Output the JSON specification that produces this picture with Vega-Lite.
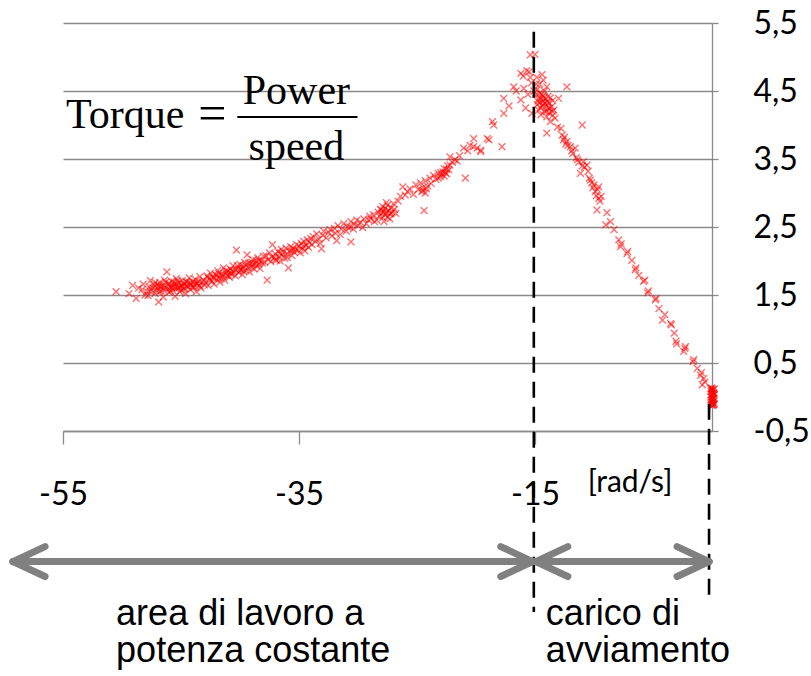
{
  "$schema": "https://vega.github.io/schema/vega-lite/v6.json",
  "autosize": "none",
  "width": 649,
  "height": 408,
  "padding": {"left": 63, "top": 23, "right": 99, "bottom": 245},
  "background": "white",
  "config": {"view": {"stroke": null}},
  "datasets": {
    "pts": [
      {"x":-50.5,"y":1.55},{"x":-49.4,"y":1.52},{"x":-49.1,"y":1.64},{"x":-48.8,"y":1.45},{"x":-48.3,"y":1.58},{"x":-48.05,"y":1.5},{"x":-48.6,"y":1.6},{"x":-48.2,"y":1.66},{"x":-47.9,"y":1.55},{"x":-47.7,"y":1.62},
      {"x":-47.8,"y":1.49},{"x":-47.6,"y":1.71},{"x":-47.5,"y":1.58},{"x":-47.3,"y":1.65},{"x":-47.2,"y":1.52},{"x":-47.0,"y":1.6},{"x":-46.9,"y":1.4},{"x":-46.8,"y":1.68},{"x":-46.7,"y":1.56},{"x":-46.6,"y":1.63},{"x":-46.5,"y":1.47},{"x":-46.4,"y":1.72},{"x":-46.3,"y":1.59},{"x":-46.2,"y":1.84},{"x":-46.1,"y":1.66},{"x":-46.0,"y":1.54},{"x":-45.9,"y":1.62},{"x":-45.8,"y":1.7},{"x":-45.7,"y":1.57},{"x":-45.6,"y":1.65},{"x":-45.5,"y":1.48},{"x":-45.4,"y":1.74},{"x":-45.3,"y":1.61},{"x":-45.2,"y":1.68},{"x":-45.1,"y":1.55},{"x":-45.0,"y":1.64},{"x":-44.9,"y":1.71},{"x":-44.8,"y":1.59},{"x":-44.7,"y":1.66},{"x":-44.6,"y":1.52},{"x":-44.5,"y":1.69},{"x":-44.4,"y":1.62},{"x":-44.3,"y":1.75},{"x":-44.2,"y":1.58},{"x":-44.1,"y":1.66},{"x":-44.0,"y":1.7},{"x":-43.9,"y":1.61},{"x":-43.8,"y":1.73},{"x":-43.7,"y":1.55},{"x":-43.6,"y":1.67},{"x":-43.5,"y":1.64},{"x":-43.4,"y":1.77},{"x":-43.3,"y":1.6},{"x":-43.2,"y":1.69},{"x":-43.1,"y":1.72},{"x":-43.0,"y":1.65},
      {"x":-47.4,"y":1.61},{"x":-46.9,"y":1.63},{"x":-46.5,"y":1.58},{"x":-46.0,"y":1.67},{"x":-45.5,"y":1.6},{"x":-45.0,"y":1.57},{"x":-44.5,"y":1.63},{"x":-44.0,"y":1.62},{"x":-43.5,"y":1.7},{"x":-47.1,"y":1.57},{"x":-46.3,"y":1.69},{"x":-45.7,"y":1.63},{"x":-45.2,"y":1.6},{"x":-44.8,"y":1.66},{"x":-44.2,"y":1.64},{"x":-43.7,"y":1.67},{"x":-46.8,"y":1.55},{"x":-45.9,"y":1.56},{"x":-45.3,"y":1.71},{"x":-44.6,"y":1.7},
      {"x":-47.6,"y":1.55},{"x":-47.2,"y":1.68},{"x":-46.7,"y":1.62},{"x":-46.1,"y":1.59},{"x":-45.6,"y":1.69},{"x":-45.1,"y":1.62},{"x":-44.7,"y":1.6},{"x":-44.3,"y":1.68},{"x":-43.9,"y":1.66},{"x":-43.4,"y":1.63},{"x":-47.0,"y":1.66},{"x":-46.4,"y":1.64},{"x":-45.8,"y":1.61},{"x":-45.4,"y":1.66},{"x":-44.9,"y":1.63},
      {"x":-42.9,"y":1.68},{"x":-42.8,"y":1.78},{"x":-42.7,"y":1.64},{"x":-42.6,"y":1.74},{"x":-42.5,"y":1.82},{"x":-42.4,"y":1.7},{"x":-42.3,"y":1.77},{"x":-42.2,"y":1.66},{"x":-42.1,"y":1.8},{"x":-42.0,"y":1.73},{"x":-41.9,"y":1.86},{"x":-41.8,"y":1.75},{"x":-41.7,"y":1.69},{"x":-41.6,"y":1.81},{"x":-41.5,"y":1.77},{"x":-41.4,"y":1.9},{"x":-41.3,"y":1.72},{"x":-41.2,"y":1.83},{"x":-41.1,"y":1.79},{"x":-41.0,"y":1.85},{"x":-40.9,"y":1.76},{"x":-40.8,"y":1.88},{"x":-40.7,"y":1.81},{"x":-40.6,"y":1.93},{"x":-40.5,"y":1.84},{"x":-40.4,"y":1.78},{"x":-40.3,"y":2.16},{"x":-40.2,"y":1.89},{"x":-40.1,"y":1.83},{"x":-40.0,"y":1.95},{"x":-39.9,"y":1.87},{"x":-39.8,"y":1.8},{"x":-39.7,"y":1.92},{"x":-39.6,"y":1.98},{"x":-39.5,"y":1.86},{"x":-39.4,"y":2.09},{"x":-39.3,"y":1.9},{"x":-39.2,"y":1.84},{"x":-39.1,"y":1.96},{"x":-39.0,"y":1.91},{"x":-38.9,"y":2.02},{"x":-38.8,"y":1.88},{"x":-38.7,"y":1.97},{"x":-38.6,"y":1.93},{"x":-38.5,"y":2.05},{"x":-38.4,"y":1.95},{"x":-38.3,"y":1.89},{"x":-38.2,"y":2.0},{"x":-38.1,"y":1.97},{"x":-38.0,"y":2.07},
      {"x":-42.5,"y":1.72},{"x":-41.8,"y":1.82},{"x":-41.0,"y":1.78},{"x":-40.4,"y":1.87},{"x":-39.7,"y":1.85},{"x":-39.0,"y":1.98},{"x":-38.4,"y":2.01},{"x":-42.2,"y":1.75},{"x":-41.4,"y":1.8},{"x":-40.7,"y":1.86},{"x":-40.0,"y":1.88},{"x":-39.3,"y":1.97},
      {"x":-42.7,"y":1.76},{"x":-42.0,"y":1.79},{"x":-41.6,"y":1.74},{"x":-41.2,"y":1.86},{"x":-40.8,"y":1.82},{"x":-40.2,"y":1.93},{"x":-39.8,"y":1.89},{"x":-39.5,"y":1.94},{"x":-38.9,"y":1.94},{"x":-38.6,"y":2.0},
      {"x":-37.9,"y":1.98},{"x":-37.8,"y":2.08},{"x":-37.7,"y":1.72},{"x":-37.6,"y":2.02},{"x":-37.5,"y":2.12},{"x":-37.4,"y":1.99},{"x":-37.25,"y":2.24},{"x":-37.1,"y":2.05},{"x":-37.0,"y":2.1},{"x":-36.9,"y":2.01},{"x":-36.8,"y":2.14},{"x":-36.7,"y":2.06},{"x":-36.6,"y":2.0},{"x":-36.5,"y":2.17},{"x":-36.4,"y":2.09},{"x":-36.3,"y":2.13},{"x":-36.2,"y":2.04},{"x":-36.1,"y":2.19},{"x":-36.0,"y":2.11},{"x":-35.9,"y":1.9},{"x":-35.8,"y":2.15},{"x":-35.7,"y":2.21},{"x":-35.6,"y":2.08},{"x":-35.5,"y":2.18},{"x":-35.4,"y":2.13},{"x":-35.2,"y":2.24},{"x":-35.1,"y":2.16},{"x":-35.0,"y":2.22},{"x":-34.9,"y":2.12},{"x":-34.8,"y":2.26},{"x":-34.7,"y":2.19},{"x":-34.6,"y":2.29},{"x":-34.5,"y":2.15},{"x":-34.4,"y":2.23},{"x":-34.3,"y":2.31},{"x":-34.2,"y":2.2},{"x":-34.1,"y":2.27},{"x":-34.0,"y":2.33},
      {"x":-37.3,"y":2.06},{"x":-36.6,"y":2.12},{"x":-36.0,"y":2.05},{"x":-35.3,"y":2.17},{"x":-34.6,"y":2.22},{"x":-37.0,"y":2.02},{"x":-35.6,"y":2.15},
      {"x":-33.9,"y":2.24},{"x":-33.8,"y":2.36},{"x":-33.6,"y":2.29},{"x":-33.5,"y":2.4},{"x":-33.3,"y":2.32},{"x":-33.2,"y":2.26},{"x":-33.0,"y":2.38},{"x":-32.9,"y":2.44},{"x":-32.7,"y":2.34},{"x":-32.5,"y":2.42},{"x":-32.35,"y":2.46},{"x":-32.2,"y":2.37},{"x":-32.0,"y":2.48},{"x":-31.9,"y":2.41},{"x":-31.7,"y":2.52},{"x":-31.5,"y":2.39},{"x":-31.4,"y":2.47},{"x":-31.2,"y":2.55},{"x":-31.0,"y":2.44},{"x":-30.9,"y":2.5},{"x":-30.7,"y":2.5},{"x":-30.6,"y":2.58},{"x":-30.4,"y":2.47},{"x":-30.3,"y":2.54},{"x":-30.1,"y":2.6},{"x":-30.0,"y":2.52},{"x":-29.8,"y":2.57},{"x":-29.6,"y":2.49},{"x":-29.5,"y":2.62},{"x":-29.3,"y":2.55},{"x":-29.1,"y":2.6},{"x":-29.0,"y":2.66},{"x":-30.6,"y":2.28},{"x":-33.1,"y":2.18},{"x":-31.8,"y":2.3},
      {"x":-28.9,"y":2.62},{"x":-28.7,"y":2.68},{"x":-28.6,"y":2.58},{"x":-28.4,"y":2.6},{"x":-28.3,"y":2.72},{"x":-28.2,"y":2.66},{"x":-28.1,"y":2.76},{"x":-28.0,"y":2.7},{"x":-27.9,"y":2.64},{"x":-27.9,"y":2.8},{"x":-27.8,"y":2.73},{"x":-27.7,"y":2.68},{"x":-27.7,"y":2.77},{"x":-27.6,"y":2.71},{"x":-27.5,"y":2.82},{"x":-27.5,"y":2.65},{"x":-27.4,"y":2.74},{"x":-27.3,"y":2.69},{"x":-27.2,"y":2.78},{"x":-27.1,"y":2.72},{"x":-27.0,"y":2.84},{"x":-26.9,"y":2.76},{"x":-26.8,"y":2.7},{"x":-27.8,"y":2.58},{"x":-27.3,"y":2.62},{"x":-27.6,"y":2.86},{"x":-28.0,"y":2.75},{"x":-27.2,"y":2.7},
      {"x":-26.6,"y":2.88},{"x":-26.4,"y":2.95},{"x":-26.2,"y":3.09},{"x":-26.0,"y":2.97},{"x":-25.8,"y":3.02},{"x":-25.6,"y":3.06},{"x":-25.3,"y":2.98},{"x":-25.1,"y":3.12},{"x":-24.9,"y":3.05},{"x":-24.7,"y":3.15},{"x":-24.5,"y":3.04},{"x":-24.4,"y":2.74},{"x":-24.3,"y":3.18},{"x":-24.1,"y":3.1},{"x":-23.9,"y":3.22},{"x":-23.8,"y":3.14},{"x":-23.6,"y":3.26},{"x":-23.4,"y":3.2},{"x":-23.2,"y":3.29},{"x":-23.0,"y":3.24},{"x":-22.8,"y":3.31},{"x":-22.7,"y":3.36},{"x":-22.5,"y":3.28},{"x":-22.4,"y":3.4},{"x":-22.3,"y":3.34},{"x":-22.2,"y":3.41},{"x":-22.2,"y":3.53},{"x":-22.0,"y":3.45},{"x":-21.8,"y":3.49},{"x":-21.6,"y":3.47},{"x":-21.4,"y":3.55},{"x":-21.05,"y":3.66},{"x":-20.9,"y":3.22},{"x":-20.7,"y":3.62},{"x":-20.5,"y":3.7},{"x":-20.2,"y":3.68},{"x":-19.9,"y":3.66},{"x":-19.6,"y":3.61},{"x":-19.6,"y":3.63},{"x":-20.2,"y":3.8},{"x":-19.05,"y":3.8},{"x":-18.9,"y":3.78},{"x":-17.8,"y":3.68},{"x":-18.6,"y":4.05},{"x":-18.5,"y":4.0},{"x":-17.65,"y":4.17},{"x":-17.65,"y":4.39},{"x":-17.2,"y":4.28},{"x":-16.8,"y":4.56},{"x":-16.6,"y":4.5},{"x":-16.2,"y":4.37},{"x":-15.8,"y":4.25},{"x":-16.2,"y":4.76},{"x":-16.0,"y":4.72},{"x":-15.5,"y":4.78},{"x":-15.7,"y":4.8},{"x":-15.4,"y":4.7},{"x":-15.4,"y":5.03},{"x":-15.0,"y":5.04},{"x":-15.95,"y":4.54},{"x":-15.25,"y":4.17},{"x":-15.6,"y":4.45},{"x":-15.3,"y":4.62},
      {"x":-24.6,"y":3.02},{"x":-24.5,"y":3.08},{"x":-24.3,"y":3.0},{"x":-24.2,"y":3.06},{"x":-23.2,"y":3.22},{"x":-23.0,"y":3.3},{"x":-22.9,"y":3.27},{"x":-22.7,"y":3.25},{"x":-22.5,"y":3.35},{"x":-22.6,"y":3.3},
      {"x":-14.9,"y":4.45},{"x":-14.8,"y":4.3},{"x":-14.8,"y":4.52},{"x":-14.7,"y":4.38},{"x":-14.7,"y":4.22},{"x":-14.6,"y":4.47},{"x":-14.6,"y":4.33},{"x":-14.5,"y":4.4},{"x":-14.5,"y":4.15},{"x":-14.4,"y":4.74},{"x":-14.4,"y":4.28},{"x":-14.3,"y":4.43},{"x":-14.3,"y":4.35},{"x":-14.2,"y":4.2},{"x":-14.2,"y":4.5},{"x":-14.1,"y":4.38},{"x":-14.0,"y":4.56},{"x":-14.0,"y":4.29},{"x":-14.0,"y":4.12},{"x":-13.9,"y":4.42},{"x":-13.9,"y":4.25},{"x":-13.8,"y":4.33},{"x":-13.8,"y":4.18},{"x":-13.7,"y":4.4},{"x":-13.7,"y":4.05},{"x":-13.6,"y":4.27},{"x":-13.5,"y":4.36},{"x":-13.5,"y":4.14},{"x":-13.4,"y":4.22},{"x":-13.3,"y":4.1},{"x":-14.0,"y":3.88},{"x":-13.1,"y":3.97},{"x":-13.0,"y":4.39},{"x":-12.3,"y":4.56},{"x":-14.6,"y":4.6},{"x":-14.3,"y":4.66},{"x":-14.85,"y":4.7},{"x":-15.1,"y":4.5},{"x":-14.9,"y":4.6},
      {"x":-14.75,"y":4.35},{"x":-14.55,"y":4.25},{"x":-14.35,"y":4.3},{"x":-14.15,"y":4.32},{"x":-13.95,"y":4.34},{"x":-13.75,"y":4.24},{"x":-13.55,"y":4.2},{"x":-14.45,"y":4.45},{"x":-14.25,"y":4.4},{"x":-14.05,"y":4.2},
      {"x":-12.8,"y":3.95},{"x":-12.6,"y":3.78},{"x":-12.7,"y":3.85},{"x":-12.5,"y":3.82},{"x":-12.4,"y":3.72},{"x":-12.3,"y":3.76},{"x":-12.2,"y":3.7},{"x":-12.0,"y":3.68},{"x":-11.9,"y":3.62},{"x":-11.8,"y":3.58},{"x":-11.6,"y":3.66},{"x":-11.5,"y":3.52},{"x":-11.4,"y":3.49},{"x":-11.0,"y":4.0},{"x":-11.3,"y":3.45},{"x":-11.15,"y":3.29},{"x":-11.0,"y":3.4},{"x":-10.9,"y":3.46},{"x":-10.8,"y":3.38},{"x":-10.6,"y":3.41},{"x":-10.5,"y":3.32},{"x":-10.4,"y":3.22},{"x":-10.3,"y":3.19},{"x":-10.2,"y":3.15},{"x":-10.1,"y":3.08},{"x":-10.0,"y":3.12},{"x":-9.9,"y":3.02},{"x":-9.8,"y":2.96},{"x":-9.7,"y":3.05},{"x":-9.6,"y":3.09},{"x":-9.6,"y":2.92},{"x":-9.5,"y":2.88},{"x":-9.4,"y":2.95},{"x":-9.75,"y":2.75},{"x":-8.9,"y":2.71},{"x":-8.6,"y":2.58},{"x":-9.0,"y":2.53},{"x":-8.3,"y":2.46},{"x":-7.9,"y":2.31},{"x":-7.75,"y":2.21},{"x":-7.7,"y":2.25},{"x":-7.2,"y":2.11},{"x":-7.15,"y":2.14},{"x":-6.8,"y":2.01},{"x":-6.5,"y":1.87},{"x":-6.45,"y":1.9},{"x":-6.2,"y":1.79},{"x":-5.8,"y":1.7},{"x":-5.7,"y":1.72},{"x":-5.45,"y":1.53},{"x":-5.4,"y":1.56},{"x":-4.8,"y":1.43},{"x":-4.75,"y":1.45},{"x":-4.5,"y":1.3},{"x":-4.0,"y":1.21},{"x":-4.2,"y":1.13},{"x":-3.5,"y":1.08},{"x":-3.45,"y":1.06},{"x":-3.2,"y":0.94},{"x":-3.0,"y":0.78},{"x":-3.05,"y":0.82},{"x":-2.25,"y":0.74},{"x":-2.3,"y":0.71},{"x":-2.4,"y":0.67},{"x":-1.6,"y":0.52},{"x":-1.55,"y":0.55},{"x":-1.25,"y":0.42},{"x":-0.97,"y":0.32},{"x":-0.9,"y":0.36},{"x":-0.7,"y":0.27},{"x":-0.83,"y":0.18},{"x":-0.6,"y":0.22},
      {"x":-0.1,"y":0.12},{"x":-0.05,"y":0.03},{"x":0.0,"y":-0.08},{"x":0.05,"y":0.1},{"x":0.1,"y":-0.02},{"x":0.15,"y":0.06},{"x":0.2,"y":-0.1},{"x":-0.1,"y":-0.05},{"x":-0.05,"y":0.13},{"x":0.0,"y":0.05},{"x":0.05,"y":-0.12},{"x":0.1,"y":0.11},{"x":0.15,"y":-0.06},{"x":0.2,"y":0.04},{"x":-0.1,"y":0.0},{"x":-0.05,"y":-0.1},{"x":0.0,"y":0.13},{"x":0.05,"y":-0.03},{"x":0.1,"y":0.07},{"x":0.15,"y":-0.11},{"x":0.2,"y":0.12},{"x":-0.08,"y":0.08},{"x":0.02,"y":-0.04},{"x":0.12,"y":0.02},{"x":0.18,"y":-0.02},{"x":-0.02,"y":0.09},{"x":0.08,"y":-0.08},{"x":0.0,"y":0.0},{"x":0.1,"y":-0.12},{"x":-0.06,"y":-0.12}
    ]
  },
  "layer": [
    {
      "data": {"name": "pts"},
      "mark": {"type": "point", "shape": "M-1,-1L1,1M-1,1L1,-1", "filled": false, "stroke": "#ff0000", "strokeWidth": 1.4, "strokeOpacity": 0.8, "size": 46},
      "encoding": {
        "x": {"field": "x", "type": "quantitative", "title": null, "scale": {"domain": [-55, 0], "nice": false, "zero": false},
          "axis": {"orient": "bottom", "title": null, "values": [-55, -35, -15], "grid": false, "tickSize": 13, "tickColor": "#8a8a8a", "tickWidth": 1.3, "domainColor": "#8a8a8a", "domainWidth": 1.3, "labelFont": "Lato", "labelFontSize": 32, "labelColor": "#000000", "labelPadding": 35, "labelFlush": false, "labelExpr": "'' + datum.value"}},
        "y": {"field": "y", "type": "quantitative", "title": null, "scale": {"domain": [-0.5, 5.5], "nice": false, "zero": false},
          "axis": {"orient": "right", "title": null, "values": [-0.5, 0.5, 1.5, 2.5, 3.5, 4.5, 5.5], "grid": true, "gridColor": "#8a8a8a", "gridWidth": 1.3, "tickSize": 6, "tickColor": "#8a8a8a", "tickWidth": 1.3, "domainColor": "#8a8a8a", "domainWidth": 1.3, "labelFont": "Lato", "labelFontSize": 32, "labelColor": "#000000", "labelPadding": 35, "labelFlush": false, "labelExpr": "replace('' + datum.value, '.', ',')"}}
      }
    },
    {
      "data": {"values": [{"x": -15.1, "y": 5.37, "y2": -3.16}, {"x": -0.25, "y": -0.1, "y2": -3.03}]},
      "mark": {"type": "rule", "color": "#000000", "strokeWidth": 2.6, "strokeDash": [16, 9]},
      "encoding": {
        "x": {"field": "x", "type": "quantitative", "title": null},
        "y": {"field": "y", "type": "quantitative", "title": null},
        "y2": {"field": "y2"}
      }
    },
    {
      "data": {"values": [
        {"x": -59.24, "y": -2.42, "x2": -15.21, "y2": -2.42},
        {"x": -59.24, "y": -2.42, "x2": -56.52, "y2": -2.2},
        {"x": -59.24, "y": -2.42, "x2": -56.52, "y2": -2.64},
        {"x": -15.21, "y": -2.42, "x2": -17.9, "y2": -2.2},
        {"x": -15.21, "y": -2.42, "x2": -17.9, "y2": -2.64},
        {"x": -14.93, "y": -2.42, "x2": -0.25, "y2": -2.42},
        {"x": -14.93, "y": -2.42, "x2": -12.22, "y2": -2.2},
        {"x": -14.93, "y": -2.42, "x2": -12.22, "y2": -2.64},
        {"x": -0.25, "y": -2.42, "x2": -2.96, "y2": -2.2},
        {"x": -0.25, "y": -2.42, "x2": -2.96, "y2": -2.64}
      ]},
      "mark": {"type": "rule", "color": "#808080", "strokeWidth": 7, "strokeCap": "round"},
      "encoding": {
        "x": {"field": "x", "type": "quantitative", "title": null},
        "y": {"field": "y", "type": "quantitative", "title": null},
        "x2": {"field": "x2"},
        "y2": {"field": "y2"}
      }
    },
    {
      "data": {"values": [{"x": -40.23, "x2": -30.04, "y": 4.118}]},
      "mark": {"type": "rule", "color": "#000000", "strokeWidth": 2},
      "encoding": {
        "x": {"field": "x", "type": "quantitative", "title": null},
        "x2": {"field": "x2"},
        "y": {"field": "y", "type": "quantitative", "title": null}
      }
    },
    {
      "data": {"values": [
        {"x": -54.75, "y": 3.956, "t": "Torque", "a": "left", "s": 42},
        {"x": -42.35, "y": 3.93, "t": "=", "a": "center", "s": 50},
        {"x": -35.22, "y": 4.309, "t": "Power", "a": "center", "s": 42},
        {"x": -35.22, "y": 3.485, "t": "speed", "a": "center", "s": 42}
      ]},
      "mark": {"type": "text", "font": "Liberation Serif", "color": "#000000", "baseline": "alphabetic", "align": {"expr": "datum.a"}, "fontSize": {"expr": "datum.s"}},
      "encoding": {
        "x": {"field": "x", "type": "quantitative", "title": null},
        "y": {"field": "y", "type": "quantitative", "title": null},
        "text": {"field": "t"}
      }
    },
    {
      "data": {"values": [
        {"x": -50.5, "y": -3.35, "t": "area di lavoro a"},
        {"x": -50.5, "y": -3.9, "t": "potenza costante"},
        {"x": -14.08, "y": -3.35, "t": "carico di"},
        {"x": -14.08, "y": -3.9, "t": "avviamento"}
      ]},
      "mark": {"type": "text", "font": "Liberation Sans", "fontSize": 36, "color": "#000000", "baseline": "alphabetic", "align": "left"},
      "encoding": {
        "x": {"field": "x", "type": "quantitative", "title": null},
        "y": {"field": "y", "type": "quantitative", "title": null},
        "text": {"field": "t"}
      }
    },
    {
      "data": {"values": [{"x": -10.52, "y": -1.397, "t": "[rad/s]"}]},
      "mark": {"type": "text", "font": "Lato", "fontSize": 30, "color": "#000000", "baseline": "alphabetic", "align": "left"},
      "encoding": {
        "x": {"field": "x", "type": "quantitative", "title": null},
        "y": {"field": "y", "type": "quantitative", "title": null},
        "text": {"field": "t"}
      }
    }
  ]
}
